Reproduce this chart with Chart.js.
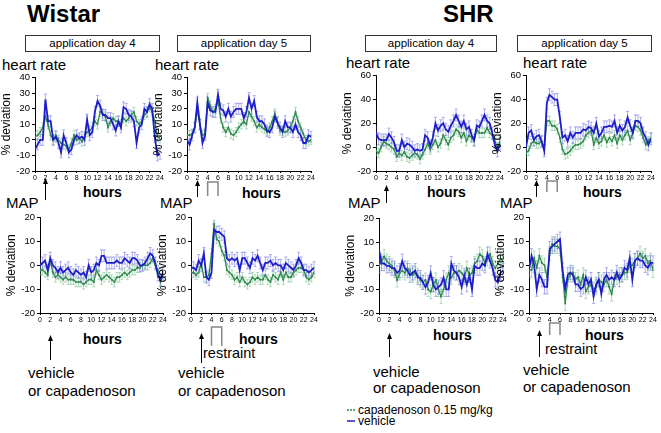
<!DOCTYPE html>
<html>
<head>
<meta charset="utf-8">
<script src="https://cdn.jsdelivr.net/npm/chart.js@4.4.1/dist/chart.umd.min.js"></script>
<style>
  body{margin:0;width:661px;height:433px;background:#fff;position:relative;overflow:hidden;font-family:'Liberation Sans',Arial,sans-serif;color:#000;}
  .t{position:absolute;white-space:nowrap;line-height:1;}
  .box{position:absolute;border:1px solid #333;box-sizing:border-box;font-size:11.5px;text-align:center;line-height:15px;}
  svg{position:absolute;left:0;top:0;pointer-events:none;}
</style>
</head>
<body>
<script>
// hours of recording (0.5 h bins)
const hours = [0,0.5,1,1.5,2,2.5,3,3.5,4,4.5,5,5.5,6,6.5,7,7.5,8,8.5,9,9.5,10,10.5,11,11.5,12,12.5,13,13.5,14,14.5,15,15.5,16,16.5,17,17.5,18,18.5,19,19.5,20,20.5,21,21.5,22,22.5,23,23.5,24];

// Wistar heart rate, % deviation
const wistarHrDay4Vehicle = [-6,-3,0,0,26,12,12,0,2,-2,-8,3,-2,-8,-6,0,3,1,2,0,13,3,5,18,25,22,16,16,14,14,10,6,12,8,21,20,16,15,12,-2,8,10,20,18,23,20,2,-10,-9];
const wistarHrDay4Capa    = [2,3,5,8,15,10,3,0,3,0,-2,-3,-4,-6,-2,3,0,1,-1,2,5,6,8,12,10,18,17,15,8,12,14,12,12,10,14,12,14,16,18,12,10,12,16,18,21,18,12,2,1];
const wistarHrDay5Vehicle = [0,-3,3,8,24,10,-2,3,24,19,18,18,29,20,19,15,20,15,18,20,20,20,14,18,27,20,25,15,12,12,10,6,5,8,15,11,8,5,12,8,8,5,10,5,3,-2,-2,3,2];
const wistarHrDay5Capa    = [3,3,4,8,19,10,3,4,27,22,18,20,25,14,8,5,8,4,3,5,8,10,12,10,18,15,12,8,10,8,7,5,8,12,17,12,6,6,5,6,8,12,18,12,8,4,0,-1,0];
// SHR heart rate
const shrHrDay4Vehicle = [12,7,6,6,6,11,8,4,-3,-3,6,0,3,2,0,-3,-2,-3,-2,10,8,1,8,20,14,18,20,15,13,18,22,27,22,17,22,15,17,10,6,18,17,22,27,22,20,12,2,-3,3];
const shrHrDay4Capa    = [-3,-5,0,5,3,2,0,-2,-8,-5,-7,-4,-8,-9,-7,-5,-6,-10,-6,-2,3,-2,2,6,0,3,10,6,2,8,10,15,13,8,12,5,10,8,5,15,12,12,12,16,12,10,5,0,5];
const shrHrDay5Vehicle = [0,12,14,6,9,10,5,-3,37,44,42,40,40,25,8,10,5,12,8,12,12,12,15,14,17,16,12,20,9,12,17,17,18,17,22,12,18,14,17,25,18,12,22,22,20,12,8,2,7];
const shrHrDay5Capa    = [-5,-3,3,5,3,3,5,-2,22,22,18,18,15,8,-2,-6,-5,-3,0,2,2,3,5,10,12,14,2,8,3,5,10,4,8,5,10,3,10,6,10,14,6,12,18,17,14,8,2,5,8];
// Wistar MAP
const wistarMapDay4Vehicle = [0,1,2,-2,3,0,-1,-3,-1,-3,-2,-1,-3,-4,-2,-3,-4,-3,-5,0,-3,-2,1,0,4,4,1,1,1,1,2,1,1,3,2,1,3,3,2,0,0,1,3,5,4,1,-4,-6,-3];
const wistarMapDay4Capa    = [-2,-2,-3,-4,2,-3,-5,-4,-5,-6,-5,-6,-6,-6,-7,-7,-7,-8,-7,-6,-6,-7,-2,-4,-6,-5,-4,-5,-6,-7,-5,-5,-4,-3,-4,-3,-2,-2,-1,-1,0,0,0,1,3,0,-2,-7,-4];
const wistarMapDay5Vehicle = [-1,-1,-2,2,0,5,-5,-6,-3,15,14,14,13,12,3,2,3,2,3,-2,3,3,1,-1,3,2,4,1,-2,1,1,2,0,1,0,0,-2,1,0,-1,-2,0,3,1,-2,-2,-3,-2,-1];
const wistarMapDay5Capa    = [-3,-3,-4,-3,1,-5,-5,-4,5,17,11,10,6,4,-2,-3,-4,-6,-5,-7,-5,-7,-8,-7,-5,-6,-5,-6,-6,-4,-6,-7,-4,-5,-6,-3,-6,-3,-5,-5,-3,-2,-1,-1,-2,-5,-6,-5,-3];
// SHR MAP
const shrMapDay4Vehicle = [7,1,1,0,0,-1,-1,-3,-2,2,-1,-2,-4,-3,-2,-5,-5,-7,-9,-7,-3,-8,-10,-9,-8,-5,-10,-10,1,-2,-3,-5,-9,-4,-8,-4,-10,0,-1,-1,1,0,5,2,-1,-6,-7,-3,-2];
const shrMapDay4Capa    = [0,2,4,2,1,0,-2,-6,-3,-2,-3,-1,-2,-4,-3,-4,-6,-7,-6,-10,-11,-8,-6,-10,-13,-10,-6,-3,-5,-3,-3,-2,-3,-5,-1,-4,-3,1,2,5,4,1,3,5,1,-1,1,3,2];
const shrMapDay5Vehicle = [-2,4,0,-10,-4,-6,-9,-9,7,8,9,10,11,-2,-10,-4,-3,-4,-8,-8,-10,-9,-5,-8,-6,-13,-8,-6,-12,-6,-4,-6,-5,-6,-3,-6,-4,-1,-2,3,-6,2,3,2,2,0,-1,1,1];
const shrMapDay5Capa    = [-2,-2,3,-1,4,1,0,-5,5,9,8,8,7,-4,-16,-6,-4,-3,-6,-5,-8,-4,-11,-9,-8,-10,-9,-6,-7,-8,-6,-9,-12,-6,-5,-4,-4,-3,-3,0,0,2,3,5,3,4,1,2,-2];

// typical SEM [vehicle, capadenoson]
const semWistarHr = [3.5, 3];
const semShrHr = [5, 4];
const semWistarMap = [2.5, 2];
const semShrMap = [3, 3];

const hrTicks = [-20, 40, 10];
const shrHrTicks = [-20, 60, 20];
const mapTicks = [-20, 20, 10];

Chart.defaults.font.family = "'Liberation Sans', Arial, sans-serif";
Chart.defaults.color = '#000';

const BLUE = '#1e1ec8', BLUE_ERR = 'rgba(90,90,230,0.6)';
const GREEN = '#2e8a4c', GREEN_ERR = 'rgba(110,190,130,0.65)';

const errorBars = {
  id: 'errorBars',
  beforeDatasetsDraw(chart) {
    const {ctx, chartArea, scales: {x, y}} = chart;
    ctx.save();
    ctx.beginPath();
    ctx.rect(chartArea.left, chartArea.top - 2, chartArea.right - chartArea.left + 2, chartArea.bottom - chartArea.top + 2);
    ctx.clip();
    for (let i = chart.data.datasets.length - 1; i >= 0; i--) {
      const ds = chart.data.datasets[i];
      ctx.strokeStyle = ds.errColor;
      ctx.lineWidth = 0.8;
      ds.data.forEach(p => {
        const px = x.getPixelForValue(p.x);
        const top = y.getPixelForValue(p.y + ds.sem);
        const bot = y.getPixelForValue(p.y - ds.sem);
        ctx.beginPath();
        ctx.moveTo(px, top); ctx.lineTo(px, bot);
        ctx.moveTo(px - 1.5, top); ctx.lineTo(px + 1.5, top);
        ctx.moveTo(px - 1.5, bot); ctx.lineTo(px + 1.5, bot);
        ctx.stroke();
      });
    }
    ctx.restore();
  }
};

const toPoints = vals => vals.map((v, i) => ({x: hours[i], y: v}));

const padL = 36, padT = 7, padR = 7, padB = 14;

function makeChart(p) {
  const w = p.x1 - p.x0 + padL + padR, h = p.y1 - p.y0 + padT + padB;
  const canvas = document.createElement('canvas');
  canvas.width = w; canvas.height = h;
  canvas.style.cssText = `position:absolute;left:${p.x0 - padL}px;top:${p.y0 - padT}px;width:${w}px;height:${h}px`;
  document.body.appendChild(canvas);
  const chart = new Chart(canvas, {
    type: 'line',
    data: {datasets: [
      {label: 'vehicle', data: toPoints(p.vehicle), borderColor: BLUE, backgroundColor: BLUE,
       borderWidth: 1.8, pointRadius: 0, tension: 0, errColor: BLUE_ERR, sem: p.sem[0]},
      {label: 'capadenoson 0.15 mg/kg', data: toPoints(p.capa), borderColor: GREEN, backgroundColor: GREEN,
       borderWidth: 1.3, pointRadius: 1, pointBorderWidth: 0, pointBackgroundColor: GREEN, tension: 0,
       errColor: GREEN_ERR, sem: p.sem[1]}
    ]},
    options: {
      responsive: false, animation: false, devicePixelRatio: 1,
      layout: {padding: {top: padT, right: padR, left: 0, bottom: 0}},
      plugins: {legend: {display: false}, tooltip: {enabled: false}},
      scales: {
        x: {type: 'linear', min: 0, max: 24,
            afterFit: s => { s.height = padB; },
            ticks: {stepSize: 2, autoSkip: false, maxRotation: 0, font: {size: 7}, color: '#000', padding: 1},
            grid: {drawOnChartArea: false, tickLength: 2, color: '#000'},
            border: {color: '#000', width: 1}},
        y: {min: p.ticks[0], max: p.ticks[1],
            afterFit: s => { s.width = padL; },
            ticks: {stepSize: p.ticks[2], font: {size: 9.5}, color: '#000', padding: 2},
            grid: {drawOnChartArea: false, tickLength: 3, color: '#000'},
            border: {color: '#000', width: 1},
            title: {display: true, text: '% deviation', font: {size: 12}, color: '#000', padding: {top: 0, bottom: 1}}}
      }
    },
    plugins: [errorBars]
  });
  chart._left = p.x0 - padL;
  return chart;
}

const panels = [
  {x0: 35, x1: 160, y0: 77, y1: 171, ticks: hrTicks, vehicle: wistarHrDay4Vehicle, capa: wistarHrDay4Capa, sem: semWistarHr, arrow: [178, 200]},
  {x0: 187, x1: 311, y0: 77, y1: 171, ticks: hrTicks, vehicle: wistarHrDay5Vehicle, capa: wistarHrDay5Capa, sem: semWistarHr, arrow: [180, 197], bracket: [182, 196]},
  {x0: 376, x1: 500, y0: 75, y1: 171, ticks: shrHrTicks, vehicle: shrHrDay4Vehicle, capa: shrHrDay4Capa, sem: semShrHr, arrow: [185, 203]},
  {x0: 526, x1: 651, y0: 75, y1: 171, ticks: shrHrTicks, vehicle: shrHrDay5Vehicle, capa: shrHrDay5Capa, sem: semShrHr, arrow: [180, 197], bracket: [181, 192]},
  {x0: 40, x1: 163, y0: 217, y1: 313, ticks: mapTicks, vehicle: wistarMapDay4Vehicle, capa: wistarMapDay4Capa, sem: semWistarMap, arrow: [335, 360]},
  {x0: 191, x1: 314, y0: 217, y1: 313, ticks: mapTicks, vehicle: wistarMapDay5Vehicle, capa: wistarMapDay5Capa, sem: semWistarMap, arrow: [333, 363], bracket: [327, 346]},
  {x0: 379, x1: 503, y0: 218, y1: 313, ticks: mapTicks, vehicle: shrMapDay4Vehicle, capa: shrMapDay4Capa, sem: semShrMap, arrow: [333, 357]},
  {x0: 529, x1: 653, y0: 217, y1: 313, ticks: mapTicks, vehicle: shrMapDay5Vehicle, capa: shrMapDay5Capa, sem: semShrMap, arrow: [330, 357], bracket: [323, 335]}
];

// text helpers (positioned by baseline)
function text(str, x, baseline, size, weight) {
  const d = document.createElement('div');
  d.className = 't';
  d.textContent = str;
  d.style.left = x + 'px';
  d.style.top = (baseline - 0.85 * size) + 'px';
  d.style.fontSize = size + 'px';
  if (weight) d.style.fontWeight = weight;
  document.body.appendChild(d);
}
function box(str, x, w) {
  const d = document.createElement('div');
  d.className = 'box';
  d.textContent = str;
  d.style.left = x + 'px'; d.style.top = '35px';
  d.style.width = w + 'px'; d.style.height = '17px';
  document.body.appendChild(d);
}

text('Wistar', 27, 22, 24, 'bold');
text('SHR', 443, 22, 24, 'bold');
box('application day 4', 25, 135);
box('application day 5', 177, 134);
box('application day 4', 365, 132);
box('application day 5', 517, 135);

text('heart rate', 2, 70, 15);
text('heart rate', 155, 70, 15);
text('heart rate', 346, 68, 15);
text('heart rate', 523, 68, 15);
text('MAP', 6, 208, 15);
text('MAP', 160, 208, 15);
text('MAP', 348, 208, 15);
text('MAP', 500, 208, 15);

text('hours', 83, 197, 14, 'bold');
text('hours', 242, 198, 14, 'bold');
text('hours', 427, 197, 14, 'bold');
text('hours', 583, 197, 14, 'bold');
text('hours', 83, 344, 14, 'bold');
text('hours', 239, 344, 14, 'bold');
text('hours', 433, 340, 14, 'bold');
text('hours', 585, 340, 14, 'bold');

text('restraint', 203, 358, 14.5);
text('restraint', 545, 354, 14.5);
text('vehicle', 28, 378, 15);
text('or capadenoson', 28, 396, 15);
text('vehicle', 178, 378, 15);
text('or capadenoson', 178, 396, 15);
text('vehicle', 373, 377, 15);
text('or capadenoson', 373, 393, 15);
text('vehicle', 523, 375, 15);
text('or capadenoson', 523, 392, 15);

text('capadenoson 0.15 mg/kg', 358, 414, 12);
text('vehicle', 358, 425, 12);

const NS = 'http://www.w3.org/2000/svg';
const svg = document.createElementNS(NS, 'svg');
svg.setAttribute('width', 661); svg.setAttribute('height', 433);
document.body.appendChild(svg);
function el(name, attrs) {
  const e = document.createElementNS(NS, name);
  for (const k in attrs) e.setAttribute(k, attrs[k]);
  svg.appendChild(e);
}

// legend dashes
el('line', {x1: 347, y1: 410, x2: 355, y2: 410, stroke: GREEN, 'stroke-width': 1.5, 'stroke-dasharray': '2,1'});
el('line', {x1: 347, y1: 421, x2: 355, y2: 421, stroke: BLUE, 'stroke-width': 1.5});

panels.forEach(p => {
  const chart = makeChart(p);
  const sx = chart.scales.x;
  const ax = Math.round(chart._left + sx.getPixelForValue(2)) + 0.5;
  const [tip, tail] = p.arrow;
  el('line', {x1: ax, y1: tail, x2: ax, y2: tip + 5, stroke: '#000', 'stroke-width': 1});
  el('polygon', {points: `${ax},${tip} ${ax - 2.5},${tip + 6} ${ax + 2.5},${tip + 6}`, fill: '#000'});
  if (p.bracket) {
    const bx1 = chart._left + sx.getPixelForValue(4), bx2 = chart._left + sx.getPixelForValue(6);
    const [bt, bb] = p.bracket;
    el('polyline', {points: `${bx1},${bb} ${bx1},${bt} ${bx2},${bt} ${bx2},${bb}`, fill: 'none', stroke: '#888', 'stroke-width': 1.5});
  }
});
</script>
</body>
</html>
